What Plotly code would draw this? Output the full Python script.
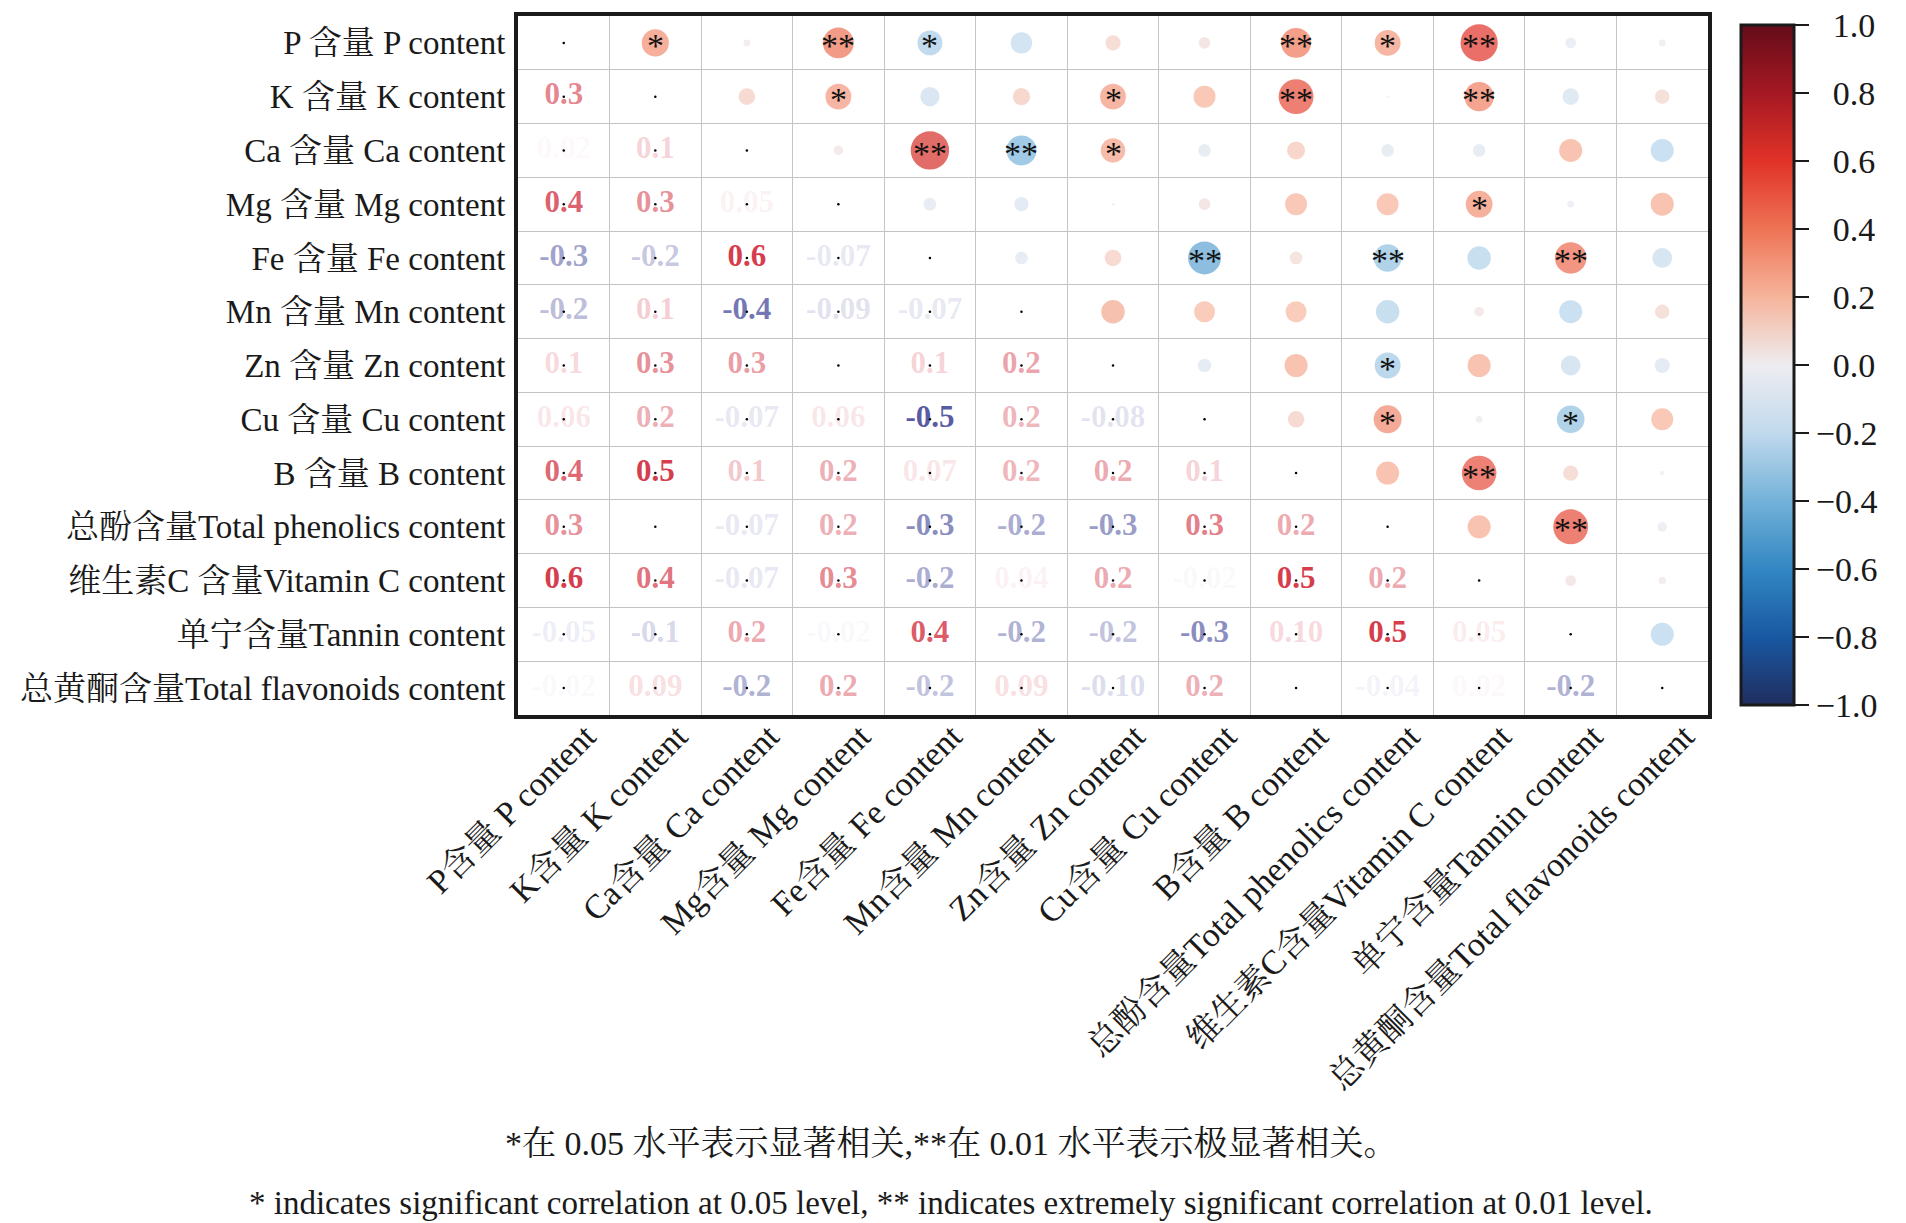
import plotly.graph_objects as go

# ---------------- data ----------------
y_names = ["P 含量 P content", "K 含量 K content", "Ca 含量 Ca content", "Mg 含量 Mg content",
           "Fe 含量 Fe content", "Mn 含量 Mn content", "Zn 含量 Zn content", "Cu 含量 Cu content",
           "B 含量 B content", "总酚含量Total phenolics content", "维生素C 含量Vitamin C content",
           "单宁含量Tannin content", "总黄酮含量Total flavonoids content"]
x_names = ["P含量 P content", "K含量 K content", "Ca含量 Ca content", "Mg含量 Mg content",
           "Fe含量 Fe content", "Mn含量 Mn content", "Zn含量 Zn content", "Cu含量 Cu content",
           "B含量 B content", "总酚含量Total phenolics content", "维生素C含量Vitamin C content",
           "单宁含量Tannin content", "总黄酮含量Total flavonoids content"]

# lower-triangle correlation coefficients, row i -> columns 0..i-1
corr_K   = [0.32]
corr_Ca  = [0.02, 0.12]
corr_Mg  = [0.41, 0.29, 0.04]
corr_Fe  = [-0.27, -0.16, 0.64, -0.07]
corr_Mn  = [-0.20, 0.13, -0.39, -0.09, -0.07]
corr_Zn  = [0.10, 0.29, 0.26, 0.004, 0.12, 0.24]
corr_Cu  = [0.06, 0.21, -0.07, 0.06, -0.47, 0.19, -0.08]
corr_B   = [0.39, 0.53, 0.14, 0.21, 0.07, 0.19, 0.23, 0.12]
corr_TP  = [0.29, 0.003, -0.07, 0.21, -0.33, -0.24, -0.29, 0.34, 0.23]
corr_VC  = [0.60, 0.37, -0.07, 0.31, -0.24, 0.04, 0.23, -0.02, 0.52, 0.23]
corr_Tan = [-0.05, -0.12, 0.23, -0.02, 0.43, -0.23, -0.17, -0.33, 0.10, 0.53, 0.05]
corr_TF  = [-0.02, 0.09, -0.23, 0.23, -0.17, 0.09, -0.10, 0.21, -0.01, -0.04, 0.025, -0.23]

# printed labels of the lower triangle
lab_K   = ["0.3"]
lab_Ca  = ["0.02", "0.1"]
lab_Mg  = ["0.4", "0.3", "0.05"]
lab_Fe  = ["-0.3", "-0.2", "0.6", "-0.07"]
lab_Mn  = ["-0.2", "0.1", "-0.4", "-0.09", "-0.07"]
lab_Zn  = ["0.1", "0.3", "0.3", "0.004", "0.1", "0.2"]
lab_Cu  = ["0.06", "0.2", "-0.07", "0.06", "-0.5", "0.2", "-0.08"]
lab_B   = ["0.4", "0.5", "0.1", "0.2", "0.07", "0.2", "0.2", "0.1"]
lab_TP  = ["0.3", "0.003", "-0.07", "0.2", "-0.3", "-0.2", "-0.3", "0.3", "0.2"]
lab_VC  = ["0.6", "0.4", "-0.07", "0.3", "-0.2", "0.04", "0.2", "-0.02", "0.5", "0.2"]
lab_Tan = ["-0.05", "-0.1", "0.2", "-0.02", "0.4", "-0.2", "-0.2", "-0.3", "0.10", "0.5", "0.05"]
lab_TF  = ["-0.02", "0.09", "-0.2", "0.2", "-0.2", "0.09", "-0.10", "0.2", "-0.01", "-0.04", "0.02", "-0.2"]

# significance marks (same layout as lower triangle)
sig_K   = ["*"]
sig_Ca  = ["", ""]
sig_Mg  = ["**", "*", ""]
sig_Fe  = ["*", "", "**", ""]
sig_Mn  = ["", "", "**", "", ""]
sig_Zn  = ["", "*", "*", "", "", ""]
sig_Cu  = ["", "", "", "", "**", "", ""]
sig_B   = ["**", "**", "", "", "", "", "", ""]
sig_TP  = ["*", "", "", "", "**", "", "*", "*", ""]
sig_VC  = ["**", "**", "", "*", "", "", "", "", "**", ""]
sig_Tan = ["", "", "", "", "**", "", "", "*", "", "**", ""]
sig_TF  = ["", "", "", "", "", "", "", "", "", "", "", ""]

cbar_ticks = [-1.0, -0.8, -0.6, -0.4, -0.2, 0.0, 0.2, 0.4, 0.6, 0.8, 1.0]

note_cn = "*在 0.05 水平表示显著相关,**在 0.01 水平表示极显著相关。"
note_en = "* indicates significant correlation at 0.05 level, ** indicates extremely significant correlation at 0.01 level."

# ---------------- assemble ----------------
corr_rows = [[], corr_K, corr_Ca, corr_Mg, corr_Fe, corr_Mn, corr_Zn, corr_Cu, corr_B,
             corr_TP, corr_VC, corr_Tan, corr_TF]
lab_rows = [[], lab_K, lab_Ca, lab_Mg, lab_Fe, lab_Mn, lab_Zn, lab_Cu, lab_B,
            lab_TP, lab_VC, lab_Tan, lab_TF]
sig_rows = [[], sig_K, sig_Ca, sig_Mg, sig_Fe, sig_Mn, sig_Zn, sig_Cu, sig_B,
            sig_TP, sig_VC, sig_Tan, sig_TF]

n = len(y_names)
SERIF = "Liberation Serif, 'Times New Roman', 'Noto Serif CJK SC', 'Noto Sans CJK SC', serif"
INK = "#1a1a1a"

cx, cy, cv = [], [], []
tx, ty, tt, tc = [], [], [], []
dx, dy = [], []
star_ann = []
for i in range(n):
    dx.append(x_names[i]); dy.append(y_names[i])
    for j in range(i):
        r = corr_rows[i][j]
        # circle in upper triangle: column i, row j
        cx.append(x_names[i]); cy.append(y_names[j]); cv.append(r)
        if sig_rows[i][j]:
            star_ann.append(dict(x=x_names[i], y=y_names[j], xref="x", yref="y",
                                 text=sig_rows[i][j], showarrow=False,
                                 xanchor="center", yanchor="middle", yshift=-3,
                                 font=dict(family=SERIF, size=34, color="#111111")))
        # number in lower triangle: column j, row i
        tx.append(x_names[j]); ty.append(y_names[i]); tt.append(lab_rows[i][j])
        a = min(1.0, 2.0 * abs(r))
        if r >= 0:
            tc.append(f"rgba(214,62,78,{a:.3f})")
        else:
            tc.append(f"rgba(78,82,160,{a:.3f})")
        dx.append(x_names[j]); dy.append(y_names[i])

colorscale = [
    [0.0, "rgb(32,45,95)"],
    [0.1, "rgb(25,88,162)"],
    [0.2, "rgb(50,135,195)"],
    [0.3, "rgb(115,178,217)"],
    [0.4, "rgb(193,217,237)"],
    [0.5, "rgb(238,236,240)"],
    [0.6, "rgb(246,180,155)"],
    [0.7, "rgb(238,115,85)"],
    [0.8, "rgb(225,50,40)"],
    [0.9, "rgb(165,25,35)"],
    [1.0, "rgb(100,12,25)"],
]

L, R, T, B = 518, 1708, 16, 715
W, H = 1906, 1223
pw, ph = R - L, B - T

fig = go.Figure()

fig.add_trace(go.Scatter(
    x=cx, y=cy, mode="markers", hoverinfo="skip",
    marker=dict(
        size=[abs(v) for v in cv], sizemode="area", sizeref=2.0 / 48 ** 2,
        color=cv, cmin=-1, cmax=1, colorscale=colorscale,
        line=dict(width=0),
        showscale=True,
        colorbar=dict(
            x=(1741 - L) / pw, xanchor="left", xref="paper",
            y=1 - (365 - T) / ph, yanchor="middle", lenmode="pixels", len=680,
            thickness=53, xpad=0, ypad=0,
            outlinewidth=3, outlinecolor=INK,
            ticks="outside", ticklen=14, tickwidth=2, tickcolor=INK,
            tickvals=cbar_ticks,
            ticktext=[("\u2212" + f"{abs(v):.1f}") if v < 0 else ("\u2007" + f"{v:.1f}") for v in cbar_ticks],
            tickfont=dict(family=SERIF, size=34, color=INK),
        ),
    ),
))

fig.add_trace(go.Scatter(
    x=tx, y=ty, mode="text", text=tt, hoverinfo="skip",
    textposition="middle center",
    textfont=dict(family=SERIF, size=31, color=tc, weight="bold"),
))

fig.add_trace(go.Scatter(
    x=dx, y=dy, mode="markers", hoverinfo="skip",
    marker=dict(size=2.5, color="black"),
))

notes_x = (951 - L) / pw
fig.update_layout(
    width=W, height=H,
    margin=dict(l=L, r=W - R, t=T, b=H - B, pad=0, autoexpand=False),
    paper_bgcolor="white", plot_bgcolor="white",
    showlegend=False,
    font=dict(family=SERIF, color=INK),
    annotations=star_ann + [
        dict(text=note_cn, xref="paper", yref="paper", x=notes_x, y=1 - (1143 - T) / ph,
             xanchor="center", yanchor="middle", showarrow=False,
             font=dict(family=SERIF, size=34, color=INK)),
        dict(text=note_en, xref="paper", yref="paper", x=notes_x, y=1 - (1203 - T) / ph,
             xanchor="center", yanchor="middle", showarrow=False,
             font=dict(family=SERIF, size=33, color=INK)),
    ],
)

fig.update_xaxes(
    type="category", categoryorder="array", categoryarray=x_names,
    range=[-0.5, n - 0.5], showgrid=False, zeroline=False, automargin=False,
    tickangle=-45, ticks="", tickfont=dict(family=SERIF, size=34, color=INK),
    ticklabelshift=22, ticklabelstandoff=-16,
    showline=True, mirror=True, linewidth=4, linecolor=INK,
    minor=dict(tickvals=[k + 0.5 for k in range(n - 1)], showgrid=True,
               gridcolor="#c4c4c4", gridwidth=1, ticks=""),
)
fig.update_yaxes(
    type="category", categoryorder="array", categoryarray=y_names,
    range=[n - 0.5, -0.5], showgrid=False, zeroline=False, automargin=False,
    ticks="", tickfont=dict(family=SERIF, size=33, color=INK),
    ticklabelstandoff=2,
    showline=True, mirror=True, linewidth=4, linecolor=INK,
    minor=dict(tickvals=[k + 0.5 for k in range(n - 1)], showgrid=True,
               gridcolor="#c4c4c4", gridwidth=1, ticks=""),
)

fig.write_html("out.html", config={"displayModeBar": False},
               post_script="document.body.style.margin='0';")
